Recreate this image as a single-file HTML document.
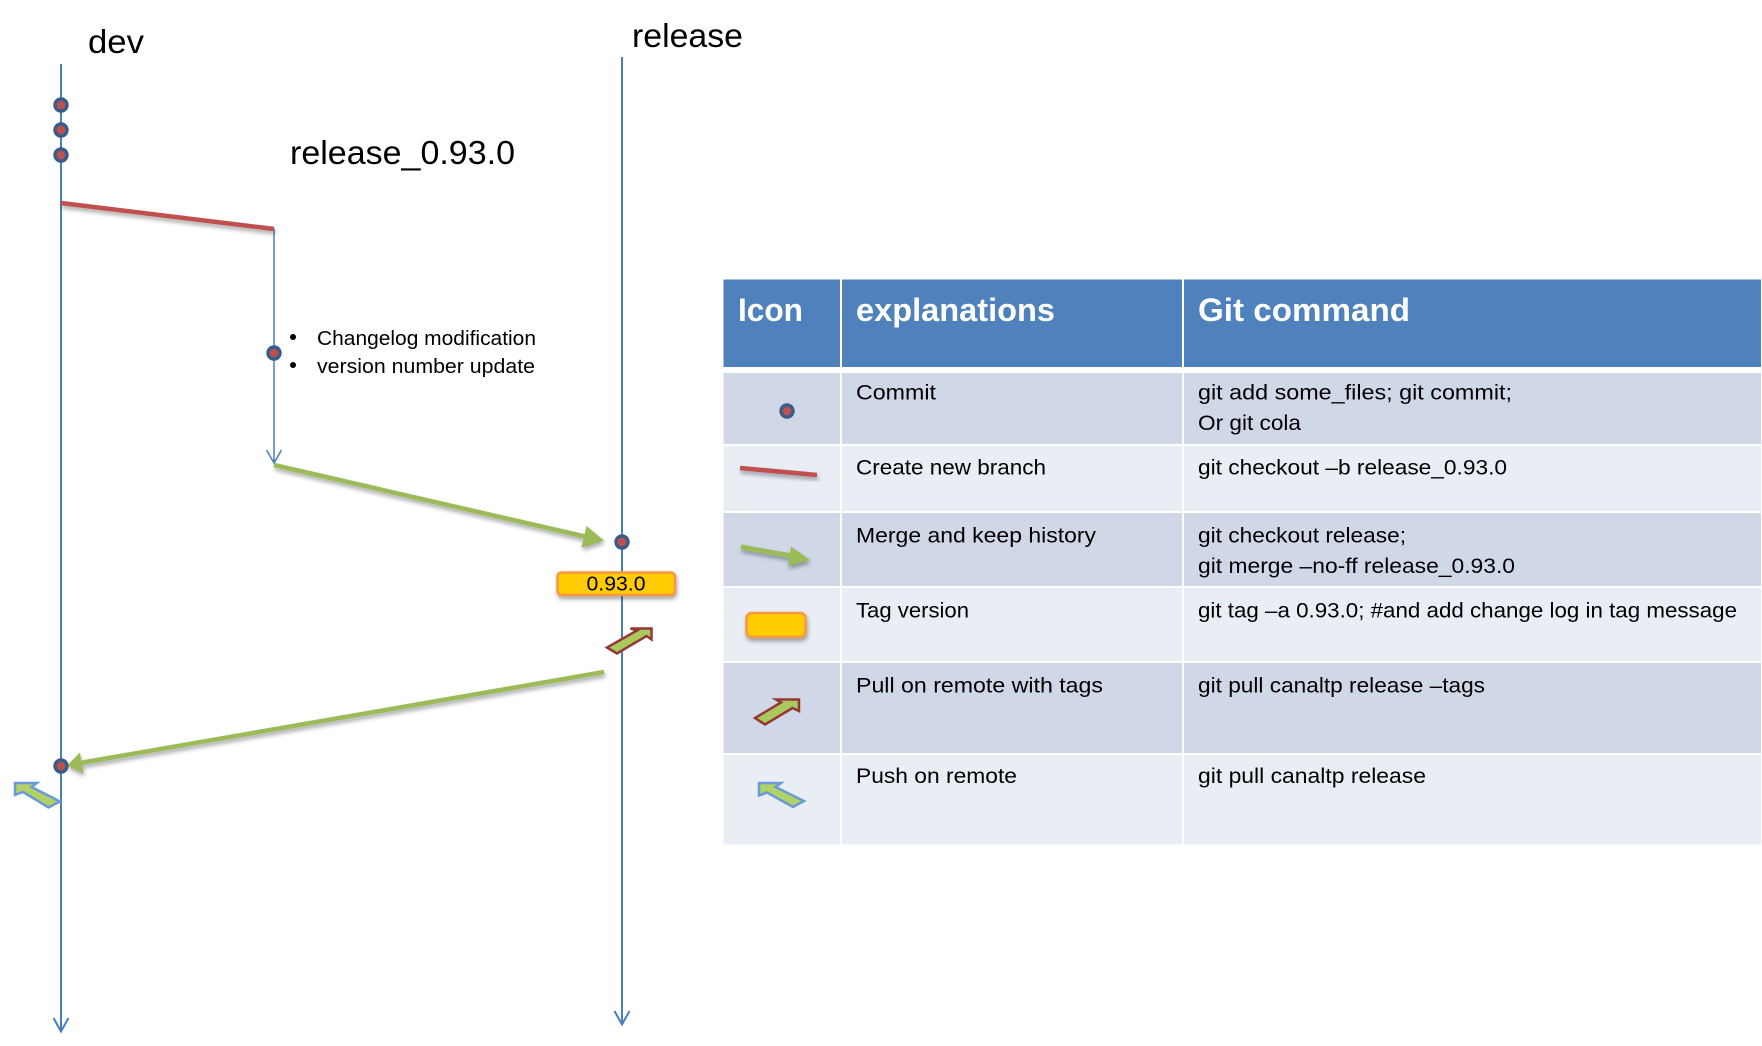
<!DOCTYPE html>
<html>
<head>
<meta charset="utf-8">
<style>
html,body{margin:0;padding:0;background:#fff;width:1762px;height:1046px;overflow:hidden}
svg{display:block}
text{font-family:"Liberation Sans",sans-serif;fill:#000}
.t{font-size:33px}
.b{font-size:21px}
.s{font-size:20px}
.h{font-size:32px;font-weight:bold;fill:#fff}
.d{fill:#C0504D;stroke:#385D8A;stroke-width:3.4}
</style>
</head>
<body>
<svg width="1762" height="1046" viewBox="0 0 1762 1046" xmlns="http://www.w3.org/2000/svg">
<defs>
<filter id="sh" x="-20%" y="-100%" width="140%" height="300%">
<feDropShadow dx="1" dy="3" stdDeviation="2" flood-color="#000" flood-opacity="0.35"/>
</filter>
<filter id="sh2" x="-20%" y="-40%" width="140%" height="200%">
<feDropShadow dx="1" dy="3" stdDeviation="2" flood-color="#000" flood-opacity="0.35"/>
</filter>
</defs>

<!-- Table -->
<g>
<rect x="723.5" y="279.5" width="116.5" height="87.5" fill="#4F81BD"/>
<rect x="842" y="279.5" width="340" height="87.5" fill="#4F81BD"/>
<rect x="1184" y="279.5" width="577" height="87.5" fill="#4F81BD"/>

<rect x="723.5" y="373" width="116.5" height="71" fill="#D0D8E8"/>
<rect x="842" y="373" width="340" height="71" fill="#D0D8E8"/>
<rect x="1184" y="373" width="577" height="71" fill="#D0D8E8"/>

<rect x="723.5" y="446" width="116.5" height="65" fill="#E9EDF4"/>
<rect x="842" y="446" width="340" height="65" fill="#E9EDF4"/>
<rect x="1184" y="446" width="577" height="65" fill="#E9EDF4"/>

<rect x="723.5" y="513" width="116.5" height="73" fill="#D0D8E8"/>
<rect x="842" y="513" width="340" height="73" fill="#D0D8E8"/>
<rect x="1184" y="513" width="577" height="73" fill="#D0D8E8"/>

<rect x="723.5" y="588" width="116.5" height="73" fill="#E9EDF4"/>
<rect x="842" y="588" width="340" height="73" fill="#E9EDF4"/>
<rect x="1184" y="588" width="577" height="73" fill="#E9EDF4"/>

<rect x="723.5" y="663" width="116.5" height="90" fill="#D0D8E8"/>
<rect x="842" y="663" width="340" height="90" fill="#D0D8E8"/>
<rect x="1184" y="663" width="577" height="90" fill="#D0D8E8"/>

<rect x="723.5" y="755" width="116.5" height="89.5" fill="#E9EDF4"/>
<rect x="842" y="755" width="340" height="89.5" fill="#E9EDF4"/>
<rect x="1184" y="755" width="577" height="89.5" fill="#E9EDF4"/>
</g>

<!-- Table text -->
<text class="h" x="738" y="321" textLength="65" lengthAdjust="spacingAndGlyphs">Icon</text>
<text class="h" x="856" y="321" textLength="199" lengthAdjust="spacingAndGlyphs">explanations</text>
<text class="h" x="1198" y="321" textLength="212" lengthAdjust="spacingAndGlyphs">Git command</text>

<text class="b" x="856" y="399.5" textLength="80" lengthAdjust="spacingAndGlyphs">Commit</text>
<text class="b" x="856" y="474.5" textLength="190" lengthAdjust="spacingAndGlyphs">Create new branch</text>
<text class="b" x="856" y="542.5" textLength="240" lengthAdjust="spacingAndGlyphs">Merge and keep history</text>
<text class="b" x="856" y="617.5" textLength="113" lengthAdjust="spacingAndGlyphs">Tag version</text>
<text class="b" x="856" y="692.5" textLength="247" lengthAdjust="spacingAndGlyphs">Pull on remote with tags</text>
<text class="b" x="856" y="783" textLength="161" lengthAdjust="spacingAndGlyphs">Push on remote</text>

<text class="b" x="1198" y="399.5" textLength="314" lengthAdjust="spacingAndGlyphs">git add some_files; git commit;</text>
<text class="b" x="1198" y="430" textLength="103" lengthAdjust="spacingAndGlyphs">Or git cola</text>
<text class="b" x="1198" y="474.5" textLength="309" lengthAdjust="spacingAndGlyphs">git checkout –b release_0.93.0</text>
<text class="b" x="1198" y="542.5" textLength="208" lengthAdjust="spacingAndGlyphs">git checkout release;</text>
<text class="b" x="1198" y="573" textLength="317" lengthAdjust="spacingAndGlyphs">git merge –no-ff release_0.93.0</text>
<text class="b" x="1198" y="617.5" textLength="539" lengthAdjust="spacingAndGlyphs">git tag –a 0.93.0; #and add change log in tag message</text>
<text class="b" x="1198" y="692.5" textLength="287" lengthAdjust="spacingAndGlyphs">git pull canaltp release –tags</text>
<text class="b" x="1198" y="783" textLength="228" lengthAdjust="spacingAndGlyphs">git pull canaltp release</text>

<!-- Table icons -->
<circle class="d" cx="787" cy="411" r="6"/>
<line x1="740" y1="468" x2="817" y2="475" stroke="#C0504D" stroke-width="4.500" filter="url(#sh)"/>
<g filter="url(#sh2)">
<line x1="741" y1="547" x2="792" y2="556" stroke="#9BBB59" stroke-width="5"/>
<polygon points="810,560 791,546.5 788,566" fill="#9BBB59"/>
</g>
<rect x="746.5" y="613" width="59" height="24" rx="5" fill="#FFCC00" stroke="#F79646" stroke-width="2.500" filter="url(#sh2)"/>
<polygon points="799,699.500 799,711 792.500,708 765,724.500 755,718 781,702.500 776,699.500" fill="#A9C95F" stroke="#953735" stroke-width="2.500"/>
<polygon points="759,783 781,783 775.500,787 804,801 793,807 767,792.500 759,795.500" fill="#B0D266" stroke="#6A9BD8" stroke-width="2.500"/>

<!-- Headings -->
<text class="t" x="88" y="53" textLength="56" lengthAdjust="spacingAndGlyphs">dev</text>
<text class="t" x="632" y="47" textLength="111" lengthAdjust="spacingAndGlyphs">release</text>
<text class="t" x="290" y="164" textLength="225" lengthAdjust="spacingAndGlyphs">release_0.93.0</text>

<!-- Branch lines -->
<line x1="61" y1="64" x2="61" y2="1031" stroke="#4A7EBB" stroke-width="2"/>
<polyline points="53.500,1018 61,1031.500 68.500,1018" fill="none" stroke="#4A7EBB" stroke-width="2"/>
<line x1="622" y1="57" x2="622" y2="1024" stroke="#4A7EBB" stroke-width="2"/>
<polyline points="614.500,1011 622,1024.500 629.500,1011" fill="none" stroke="#4A7EBB" stroke-width="2"/>
<line x1="274" y1="229" x2="274" y2="462" stroke="#4A7EBB" stroke-width="1.500"/>
<polyline points="266.500,450 274,463 281.500,450" fill="none" stroke="#4A7EBB" stroke-width="1.500"/>

<!-- Red branch line -->
<line x1="61" y1="203" x2="274" y2="229" stroke="#C0504D" stroke-width="4.500" filter="url(#sh)"/>

<!-- Merge arrow 1 -->
<g filter="url(#sh2)">
<line x1="274" y1="465" x2="587" y2="537" stroke="#9BBB59" stroke-width="4.500"/>
<polygon points="604,540.500 586.500,526 581.500,547.500" fill="#9BBB59"/>
</g>

<!-- Merge arrow 2 -->
<g filter="url(#sh2)">
<line x1="604" y1="672" x2="80" y2="763" stroke="#9BBB59" stroke-width="4.500"/>
<polygon points="67,765.500 80,752.500 83.500,773.500" fill="#9BBB59"/>
</g>

<!-- Commit dots -->
<circle class="d" cx="61" cy="105" r="6"/>
<circle class="d" cx="61" cy="130" r="6"/>
<circle class="d" cx="61" cy="155" r="6"/>
<circle class="d" cx="274" cy="353" r="6"/>
<circle class="d" cx="622" cy="542" r="6"/>
<circle class="d" cx="61" cy="766" r="6"/>

<!-- Bullets -->
<circle cx="293" cy="337" r="3" fill="#000"/>
<circle cx="293" cy="365" r="3" fill="#000"/>
<text class="s" x="317" y="345" textLength="219" lengthAdjust="spacingAndGlyphs">Changelog modification</text>
<text class="s" x="317" y="373" textLength="218" lengthAdjust="spacingAndGlyphs">version number update</text>

<!-- Tag -->
<rect x="557.500" y="572.500" width="117.500" height="22.500" rx="4" fill="#FFCC00" stroke="#F79646" stroke-width="2.500" filter="url(#sh2)"/>
<text x="586.500" y="590.500" font-size="20" textLength="59" lengthAdjust="spacingAndGlyphs">0.93.0</text>

<!-- Red block arrow -->
<polygon points="651.500,628.500 651.500,639.500 646.500,636 617,653.500 607,647.500 637,630.500 630.500,628.500" fill="#A9C95F" stroke="#953735" stroke-width="2.500"/>

<!-- Blue block arrow -->
<polygon points="15,783 37,783 31.500,787 60,801.500 48.500,807.500 23,792 15,795" fill="#B1D166" stroke="#6A9BD8" stroke-width="2.500"/>
</svg>
</body>
</html>
